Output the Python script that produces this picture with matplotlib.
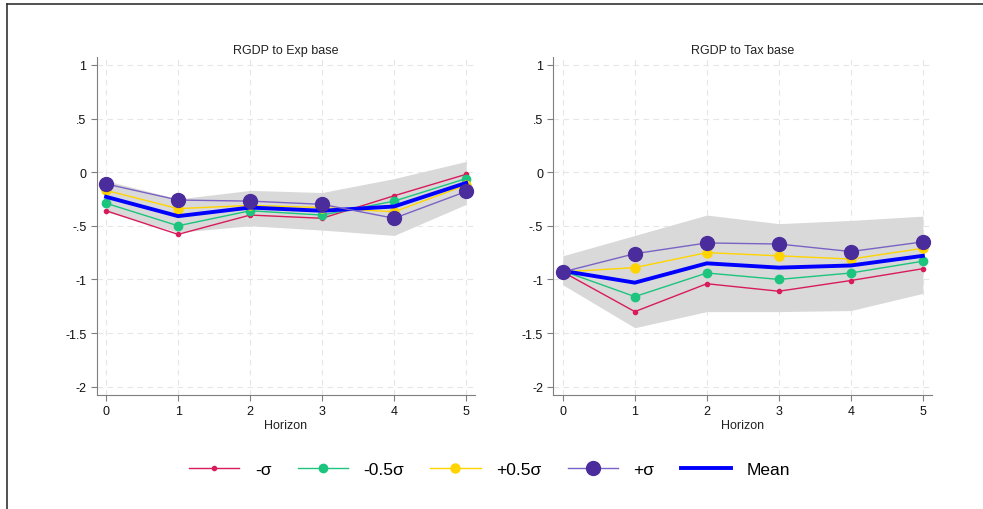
import numpy as np
import matplotlib.pyplot as plt
from matplotlib.lines import Line2D

plt.rcParams['font.family'] = ['Liberation Sans', 'DejaVu Sans']

horizon = [0, 1, 2, 3, 4, 5]

# RGDP to Exp base
exp_minus1 = [-0.36, -0.58, -0.40, -0.43, -0.22, -0.02]
exp_minus05 = [-0.29, -0.50, -0.36, -0.40, -0.27, -0.06]
exp_plus05 = [-0.17, -0.34, -0.31, -0.33, -0.37, -0.12]
exp_plus1 = [-0.11, -0.26, -0.27, -0.30, -0.43, -0.18]
exp_mean = [-0.23, -0.41, -0.33, -0.36, -0.32, -0.10]
exp_upper = [-0.08, -0.25, -0.17, -0.19, -0.06, 0.10]
exp_lower = [-0.37, -0.56, -0.50, -0.54, -0.59, -0.30]

# RGDP to Tax base
tax_minus1 = [-0.93, -1.30, -1.04, -1.11, -1.01, -0.90]
tax_minus05 = [-0.92, -1.16, -0.94, -1.00, -0.94, -0.83]
tax_plus05 = [-0.93, -0.89, -0.75, -0.78, -0.81, -0.71]
tax_plus1 = [-0.93, -0.76, -0.66, -0.67, -0.74, -0.65]
tax_mean = [-0.92, -1.03, -0.85, -0.89, -0.87, -0.78]
tax_upper = [-0.78, -0.59, -0.40, -0.48, -0.45, -0.41]
tax_lower = [-1.05, -1.45, -1.30, -1.30, -1.29, -1.13]

yticks = [1, 0.5, 0, -0.5, -1, -1.5, -2]
ytick_labels = ["1", ".5", "0", "-.5", "-1", "-1.5", "-2"]

c_red = "#d81b5a"
c_green = "#1cc47e"
c_yellow = "#ffd400"
c_purple = "#4b2c9c"
c_purple_line = "#7a63c4"
c_blue = "#0000ff"

fig = plt.figure(figsize=(9.83, 5.10), dpi=100)
ax1 = fig.add_axes([0.0984, 0.224, 0.385, 0.662])
ax2 = fig.add_axes([0.563, 0.224, 0.385, 0.662])


def draw_panel(ax, title, m1, m05, p05, p1, mean, up, lo):
    ax.fill_between(horizon, lo, up, color="#d9d9d9", lw=0, zorder=2)
    ax.plot(horizon, m1, color=c_red, lw=1, marker="o", ms=3, zorder=3)
    ax.plot(horizon, m05, color=c_green, lw=1, marker="o", ms=6, zorder=4)
    ax.plot(horizon, p05, color=c_yellow, lw=1, marker="o", ms=6.5, zorder=5)
    ax.plot(horizon, mean, color=c_blue, lw=2.8, zorder=6)
    ax.plot(horizon, p1, color=c_purple_line, lw=1, marker="o", ms=10,
            mfc=c_purple, mec=c_purple, zorder=7)
    ax.set_xlim(-0.13, 5.125)
    ax.set_ylim(-2.075, 1.072)
    ax.set_xticks(horizon)
    ax.set_yticks(yticks)
    ax.set_yticklabels(ytick_labels)
    ax.grid(True, ls=(0, (5, 4)), color="#e6e6e6", lw=0.8, zorder=0)
    ax.set_axisbelow(True)
    for s in ["top", "right"]:
        ax.spines[s].set_visible(False)
    for s in ["left", "bottom"]:
        ax.spines[s].set_color("#7f7f7f")
    ax.tick_params(labelsize=9, colors="#7f7f7f", labelcolor="#111111",
                   length=4)
    ax.set_title(title, fontsize=9, color="#222222", pad=3)
    ax.set_xlabel("Horizon", fontsize=9, color="#222222", labelpad=1)


draw_panel(ax1, "RGDP to Exp base", exp_minus1, exp_minus05, exp_plus05,
           exp_plus1, exp_mean, exp_upper, exp_lower)
draw_panel(ax2, "RGDP to Tax base", tax_minus1, tax_minus05, tax_plus05,
           tax_plus1, tax_mean, tax_upper, tax_lower)

handles = [
    Line2D([], [], color=c_red, lw=1, marker="o", ms=3),
    Line2D([], [], color=c_green, lw=1, marker="o", ms=6),
    Line2D([], [], color=c_yellow, lw=1, marker="o", ms=6.5),
    Line2D([], [], color=c_purple_line, lw=1, marker="o", ms=10,
           mfc=c_purple, mec=c_purple),
    Line2D([], [], color=c_blue, lw=2.8),
]
labels = ["-σ", "-0.5σ", "+0.5σ", "+σ", "Mean"]
fig.legend(handles, labels, loc="center", bbox_to_anchor=(0.498, 0.078),
           ncol=5, frameon=False, fontsize=12.5, handlelength=2.9,
           columnspacing=1.5, handletextpad=0.9)

# outer frame (top and left edges)
fig.add_artist(Line2D([7 / 983, 1], [1 - 5 / 510, 1 - 5 / 510],
                      color="#333333", lw=1.2, transform=fig.transFigure))
fig.add_artist(Line2D([7 / 983, 7 / 983], [0, 1 - 5 / 510],
                      color="#333333", lw=1.2, transform=fig.transFigure))

fig.savefig("out.png", dpi=100, facecolor="white")
